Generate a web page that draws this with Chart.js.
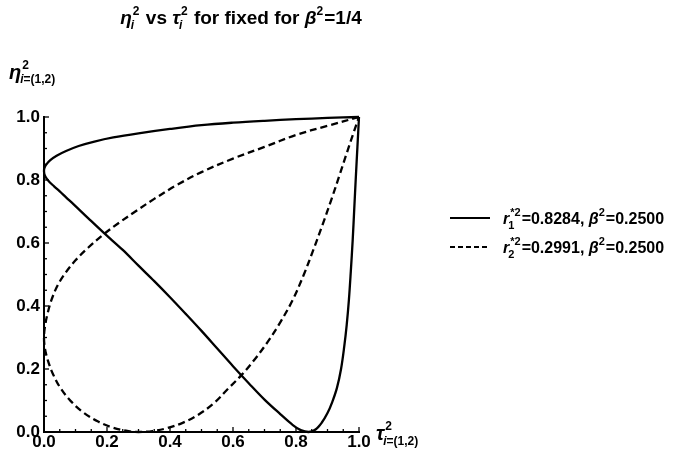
<!DOCTYPE html>
<html><head><meta charset="utf-8">
<script src="https://cdn.jsdelivr.net/npm/chart.js@4/dist/chart.umd.min.js"></script>
<style>html,body{margin:0;padding:0;background:#fff}#wrap{position:relative;width:700px;height:451px}</style>
</head><body><div id="wrap"><canvas id="c"></canvas></div>
<script>
// ---- data ----
const tickValues = [0, 0.2, 0.4, 0.6, 0.8, 1.0];
const tickLabels = ['0.0', '0.2', '0.4', '0.6', '0.8', '1.0'];
const minorStep = 0.05;

// solid curve: r1*^2 = 0.8284
const solidTau = [1.000,0.900,0.800,0.700,0.600,0.500,0.400,0.300,0.220,0.160,0.110,0.070,0.040,0.020,0.007,0.001,0.000,
  0.002,0.008,0.018,0.032,0.050,0.070,0.095,0.140,0.190,0.250,0.300,0.350,0.400,0.450,0.500,0.550,0.600,0.650,0.700,0.750,0.790,0.815,0.840,
  0.862,0.882,0.900,0.915,0.930,0.943,0.953,0.961,0.968,0.974,0.980,0.985,0.990,0.995,1.000];
const solidEta = [1.000,0.997,0.993,0.988,0.982,0.974,0.962,0.948,0.935,0.922,0.908,0.892,0.877,0.863,0.849,0.837,0.828,
  0.816,0.805,0.793,0.780,0.764,0.745,0.722,0.679,0.632,0.578,0.528,0.479,0.428,0.375,0.321,0.265,0.209,0.155,0.103,0.057,0.022,0.006,0.000,
  0.008,0.030,0.060,0.095,0.140,0.200,0.270,0.340,0.420,0.510,0.610,0.710,0.810,0.905,1.000];

// dashed curve: r2*^2 = 0.2991
const dashedTau = [1.000,0.900,0.800,0.700,0.600,0.500,0.420,0.350,0.290,0.235,0.185,0.140,0.100,0.068,0.043,0.024,0.011,0.003,0.000,
  0.003,0.012,0.028,0.052,0.085,0.125,0.170,0.215,0.260,0.300,0.345,0.390,0.440,0.490,0.540,0.585,0.629,0.670,0.708,0.750,0.790,0.825,
  0.855,0.885,0.912,0.938,0.961,0.981,1.000];
const dashedEta = [1.000,0.972,0.943,0.905,0.868,0.825,0.783,0.740,0.700,0.662,0.624,0.585,0.545,0.505,0.465,0.420,0.375,0.335,0.299,
  0.265,0.228,0.185,0.140,0.098,0.062,0.034,0.015,0.004,0.000,0.003,0.012,0.029,0.055,0.092,0.138,0.183,0.232,0.283,0.348,0.420,0.500,
  0.578,0.660,0.737,0.815,0.885,0.945,1.000];

const rStarValues = ['0.8284', '0.2991'];
const betaSqValue = '0.2500';

// ---- helpers ----
const FAM = '"Liberation Sans", Arial, Helvetica, sans-serif';
function fnt(sz, it) { return (it ? 'italic ' : '') + 'bold ' + sz + 'px ' + FAM; }
function runW(ctx, arr, sz) { let w = 0; for (const r of arr) { ctx.font = fnt(sz, r.it); w += ctx.measureText(r.t).width; } return w; }
function runDraw(ctx, arr, sz, x, y) { for (const r of arr) { ctx.font = fnt(sz, r.it); ctx.fillText(r.t, x, y); x += ctx.measureText(r.t).width; } }
function rich(ctx, parts, x, y, draw) {
  let cx = x;
  for (const p of parts) {
    if (p.sup || p.sub) {
      const w1 = p.sup ? runW(ctx, p.sup, p.sz) : 0;
      const w2 = p.sub ? runW(ctx, p.sub, p.sz) : 0;
      if (draw) {
        if (p.sup) runDraw(ctx, p.sup, p.sz, cx + (p.supDx || 0), y + p.supDy);
        if (p.sub) runDraw(ctx, p.sub, p.sz, cx + (p.subDx || 0), y + p.subDy);
      }
      cx += Math.max(w1 + (p.supDx || 0), w2 + (p.subDx || 0)) + 1;
    } else {
      ctx.font = fnt(p.sz, p.it);
      if (draw) ctx.fillText(p.t, cx, y);
      cx += ctx.measureText(p.t).width;
    }
  }
  return cx - x;
}

function pts(xs, ys) { return xs.map((v, i) => ({ x: v, y: ys[i] })); }

const decor = {
  id: 'decor',
  afterDraw(chart) {
    const ctx = chart.ctx, xs = chart.scales.x, ys = chart.scales.y;
    ctx.save();
    ctx.strokeStyle = '#000';
    ctx.fillStyle = '#000';
    ctx.lineWidth = 1.3;
    const x0 = xs.getPixelForValue(0), y0 = ys.getPixelForValue(0);
    const n = Math.round(1 / minorStep);
    for (let k = 1; k <= n; k++) {
      const v = k * minorStep;
      const major = (k % 4 === 0);
      const len = major ? 5 : 3;
      const px = xs.getPixelForValue(v);
      ctx.beginPath(); ctx.moveTo(px, y0); ctx.lineTo(px, y0 - len); ctx.stroke();
      const py = ys.getPixelForValue(v);
      ctx.beginPath(); ctx.moveTo(x0, py); ctx.lineTo(x0 + len, py); ctx.stroke();
    }
    ctx.textBaseline = 'alphabetic';
    ctx.textAlign = 'left';
    // title
    const T = 19, S = 12;
    const title = [
      { t: 'η', it: true, sz: T },
      { sup: [{ t: '2' }], sub: [{ t: 'i', it: true }], sz: S, supDx: 1, supDy: -9, subDx: -1, subDy: 5 },
      { t: ' vs ', sz: T },
      { t: 'τ', it: true, sz: T },
      { sup: [{ t: '2' }], sub: [{ t: 'i', it: true }], sz: S, supDx: 1, supDy: -9, subDx: -1, subDy: 5 },
      { t: ' for fixed for ', sz: T },
      { t: 'β', it: true, sz: T },
      { sup: [{ t: '2' }], sz: S, supDx: 0, supDy: -9 },
      { t: '=1/4', sz: T }
    ];
    const tw = rich(ctx, title, 0, 0, false);
    rich(ctx, title, 241 - tw / 2, 24, true);
    // y axis label
    const ylab = [
      { t: 'η', it: true, sz: 20 },
      { sup: [{ t: '2' }], sub: [{ t: 'i', it: true }, { t: '=(1,2)' }], sz: 12, supDx: 1, supDy: -10, subDx: -1, subDy: 4 }
    ];
    rich(ctx, ylab, 9, 79, true);
    // x axis label
    const xlab = [
      { t: 'τ', it: true, sz: 20 },
      { sup: [{ t: '2' }], sub: [{ t: 'i', it: true }, { t: '=(1,2)' }], sz: 12, supDx: 1, supDy: -10, subDx: -1, subDy: 5 }
    ];
    rich(ctx, xlab, 376, 440, true);
    // legend
    const rows = [{ y: 218, dash: [] }, { y: 247, dash: [5, 3] }];
    rows.forEach((row, i) => {
      ctx.save();
      ctx.lineWidth = 2;
      ctx.setLineDash(row.dash);
      ctx.beginPath(); ctx.moveTo(450, row.y); ctx.lineTo(490, row.y); ctx.stroke();
      ctx.restore();
      const L = 16, LS = 11;
      const lab = [
        { t: 'r', it: true, sz: L },
        { sup: [{ t: '*2' }], sub: [{ t: String(i + 1) }], sz: LS, supDx: 1, supDy: -8, subDx: -1, subDy: 5 },
        { t: '=' + rStarValues[i] + ', ', sz: L },
        { t: 'β', it: true, sz: L },
        { sup: [{ t: '2' }], sz: LS, supDx: 0, supDy: -8 },
        { t: '=' + betaSqValue, sz: L }
      ];
      rich(ctx, lab, 503, row.y + 6, true);
    });
    ctx.restore();
  }
};

const axisCommon = {
  type: 'linear', min: 0, max: 1,
  afterBuildTicks: s => { s.ticks = tickValues.map(v => ({ value: v })); },
  grid: { display: false, drawTicks: false },
  border: { display: true, color: '#000', width: 2 }
};

new Chart(document.getElementById('c'), {
  type: 'scatter',
  data: {
    datasets: [
      { data: pts(solidTau, solidEta), showLine: true, borderColor: '#000', borderWidth: 2.3, pointRadius: 0, tension: 0.35, clip: false, fill: false },
      { data: pts(dashedTau, dashedEta), showLine: true, borderColor: '#000', borderWidth: 2.3, borderDash: [7, 4], pointRadius: 0, tension: 0.35, clip: false, fill: false }
    ]
  },
  options: {
    responsive: true, maintainAspectRatio: false, animation: false, events: [],
    layout: { padding: { top: 117, right: 341, left: 0, bottom: 0 } },
    plugins: { legend: { display: false }, tooltip: { enabled: false }, title: { display: false } },
    scales: {
      x: Object.assign({}, axisCommon, {
        afterFit: s => { s.height = 19; },
        ticks: { callback: (v, i) => tickLabels[i], font: { family: FAM, size: 17, weight: 'bold' }, color: '#000', padding: 0, maxRotation: 0, autoSkip: false }
      }),
      y: Object.assign({}, axisCommon, {
        afterFit: s => { s.width = 44; },
        ticks: { callback: (v, i) => tickLabels[i], font: { family: FAM, size: 17, weight: 'bold' }, color: '#000', padding: 4, autoSkip: false }
      })
    }
  },
  plugins: [decor]
});
</script>
</body></html>
